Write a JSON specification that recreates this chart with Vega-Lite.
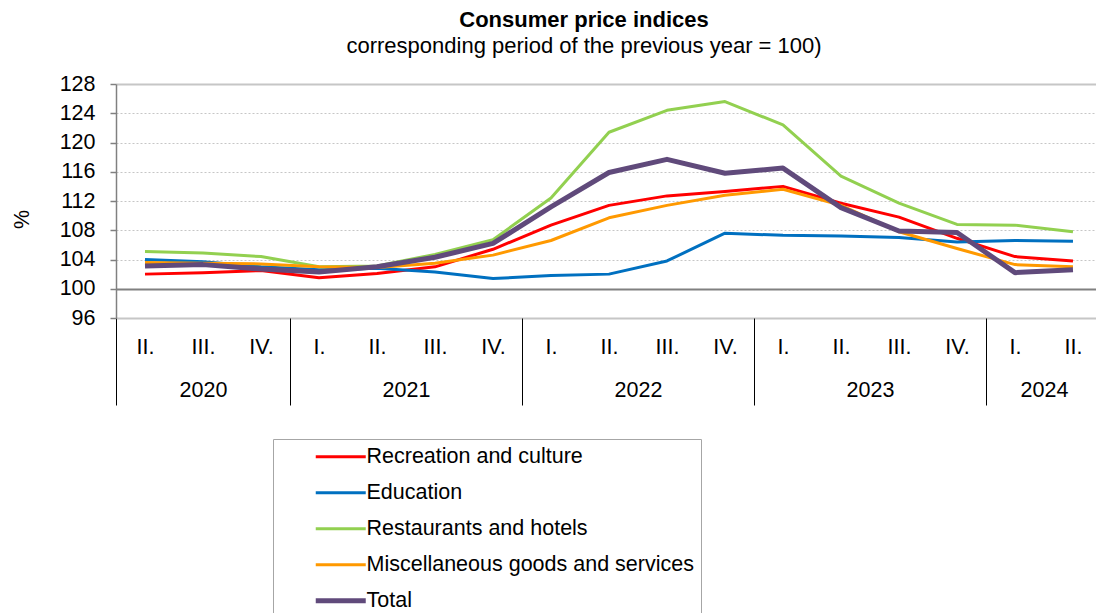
{
  "$schema": "https://vega.github.io/schema/vega-lite/v6.json",
  "width": 980,
  "height": 234,
  "autosize": {"type": "none"},
  "padding": {"left": 116, "top": 84, "right": 0, "bottom": 295},
  "background": "white",
  "config": {"font": "Liberation Sans", "view": {"stroke": null}},
  "title": {
    "text": "Consumer price indices",
    "subtitle": "corresponding period of the previous year = 100)",
    "anchor": "middle",
    "frame": "group",
    "dx": -22,
    "offset": 15,
    "font": "Liberation Sans",
    "subtitleFont": "Liberation Sans",
    "fontSize": 22,
    "fontWeight": "bold",
    "subtitleFontSize": 22,
    "subtitlePadding": 4,
    "color": "black",
    "subtitleColor": "black"
  },
  "data": {
    "values": [
      {"t": 0, "year": 2020, "quarter": "II.", "series": "Recreation and culture", "value": 102.0},
      {"t": 1, "year": 2020, "quarter": "III.", "series": "Recreation and culture", "value": 102.2},
      {"t": 2, "year": 2020, "quarter": "IV.", "series": "Recreation and culture", "value": 102.5},
      {"t": 3, "year": 2021, "quarter": "I.", "series": "Recreation and culture", "value": 101.5},
      {"t": 4, "year": 2021, "quarter": "II.", "series": "Recreation and culture", "value": 102.1},
      {"t": 5, "year": 2021, "quarter": "III.", "series": "Recreation and culture", "value": 103.0},
      {"t": 6, "year": 2021, "quarter": "IV.", "series": "Recreation and culture", "value": 105.4},
      {"t": 7, "year": 2022, "quarter": "I.", "series": "Recreation and culture", "value": 108.7},
      {"t": 8, "year": 2022, "quarter": "II.", "series": "Recreation and culture", "value": 111.4},
      {"t": 9, "year": 2022, "quarter": "III.", "series": "Recreation and culture", "value": 112.7},
      {"t": 10, "year": 2022, "quarter": "IV.", "series": "Recreation and culture", "value": 113.3},
      {"t": 11, "year": 2023, "quarter": "I.", "series": "Recreation and culture", "value": 114.0},
      {"t": 12, "year": 2023, "quarter": "II.", "series": "Recreation and culture", "value": 111.7},
      {"t": 13, "year": 2023, "quarter": "III.", "series": "Recreation and culture", "value": 109.8},
      {"t": 14, "year": 2023, "quarter": "IV.", "series": "Recreation and culture", "value": 106.9},
      {"t": 15, "year": 2024, "quarter": "I.", "series": "Recreation and culture", "value": 104.4},
      {"t": 16, "year": 2024, "quarter": "II.", "series": "Recreation and culture", "value": 103.8},

      {"t": 0, "year": 2020, "quarter": "II.", "series": "Education", "value": 104.0},
      {"t": 1, "year": 2020, "quarter": "III.", "series": "Education", "value": 103.7},
      {"t": 2, "year": 2020, "quarter": "IV.", "series": "Education", "value": 103.0},
      {"t": 3, "year": 2021, "quarter": "I.", "series": "Education", "value": 102.6},
      {"t": 4, "year": 2021, "quarter": "II.", "series": "Education", "value": 102.8},
      {"t": 5, "year": 2021, "quarter": "III.", "series": "Education", "value": 102.3},
      {"t": 6, "year": 2021, "quarter": "IV.", "series": "Education", "value": 101.4},
      {"t": 7, "year": 2022, "quarter": "I.", "series": "Education", "value": 101.8},
      {"t": 8, "year": 2022, "quarter": "II.", "series": "Education", "value": 102.0},
      {"t": 9, "year": 2022, "quarter": "III.", "series": "Education", "value": 103.8},
      {"t": 10, "year": 2022, "quarter": "IV.", "series": "Education", "value": 107.6},
      {"t": 11, "year": 2023, "quarter": "I.", "series": "Education", "value": 107.3},
      {"t": 12, "year": 2023, "quarter": "II.", "series": "Education", "value": 107.2},
      {"t": 13, "year": 2023, "quarter": "III.", "series": "Education", "value": 107.0},
      {"t": 14, "year": 2023, "quarter": "IV.", "series": "Education", "value": 106.4},
      {"t": 15, "year": 2024, "quarter": "I.", "series": "Education", "value": 106.6},
      {"t": 16, "year": 2024, "quarter": "II.", "series": "Education", "value": 106.5},

      {"t": 0, "year": 2020, "quarter": "II.", "series": "Restaurants and hotels", "value": 105.1},
      {"t": 1, "year": 2020, "quarter": "III.", "series": "Restaurants and hotels", "value": 104.9},
      {"t": 2, "year": 2020, "quarter": "IV.", "series": "Restaurants and hotels", "value": 104.4},
      {"t": 3, "year": 2021, "quarter": "I.", "series": "Restaurants and hotels", "value": 103.0},
      {"t": 4, "year": 2021, "quarter": "II.", "series": "Restaurants and hotels", "value": 103.1},
      {"t": 5, "year": 2021, "quarter": "III.", "series": "Restaurants and hotels", "value": 104.7},
      {"t": 6, "year": 2021, "quarter": "IV.", "series": "Restaurants and hotels", "value": 106.7},
      {"t": 7, "year": 2022, "quarter": "I.", "series": "Restaurants and hotels", "value": 112.4},
      {"t": 8, "year": 2022, "quarter": "II.", "series": "Restaurants and hotels", "value": 121.4},
      {"t": 9, "year": 2022, "quarter": "III.", "series": "Restaurants and hotels", "value": 124.4},
      {"t": 10, "year": 2022, "quarter": "IV.", "series": "Restaurants and hotels", "value": 125.6},
      {"t": 11, "year": 2023, "quarter": "I.", "series": "Restaurants and hotels", "value": 122.4},
      {"t": 12, "year": 2023, "quarter": "II.", "series": "Restaurants and hotels", "value": 115.4},
      {"t": 13, "year": 2023, "quarter": "III.", "series": "Restaurants and hotels", "value": 111.7},
      {"t": 14, "year": 2023, "quarter": "IV.", "series": "Restaurants and hotels", "value": 108.8},
      {"t": 15, "year": 2024, "quarter": "I.", "series": "Restaurants and hotels", "value": 108.7},
      {"t": 16, "year": 2024, "quarter": "II.", "series": "Restaurants and hotels", "value": 107.8},

      {"t": 0, "year": 2020, "quarter": "II.", "series": "Miscellaneous goods and services", "value": 103.6},
      {"t": 1, "year": 2020, "quarter": "III.", "series": "Miscellaneous goods and services", "value": 103.5},
      {"t": 2, "year": 2020, "quarter": "IV.", "series": "Miscellaneous goods and services", "value": 103.4},
      {"t": 3, "year": 2021, "quarter": "I.", "series": "Miscellaneous goods and services", "value": 103.0},
      {"t": 4, "year": 2021, "quarter": "II.", "series": "Miscellaneous goods and services", "value": 102.9},
      {"t": 5, "year": 2021, "quarter": "III.", "series": "Miscellaneous goods and services", "value": 103.5},
      {"t": 6, "year": 2021, "quarter": "IV.", "series": "Miscellaneous goods and services", "value": 104.6},
      {"t": 7, "year": 2022, "quarter": "I.", "series": "Miscellaneous goods and services", "value": 106.6},
      {"t": 8, "year": 2022, "quarter": "II.", "series": "Miscellaneous goods and services", "value": 109.7},
      {"t": 9, "year": 2022, "quarter": "III.", "series": "Miscellaneous goods and services", "value": 111.4},
      {"t": 10, "year": 2022, "quarter": "IV.", "series": "Miscellaneous goods and services", "value": 112.8},
      {"t": 11, "year": 2023, "quarter": "I.", "series": "Miscellaneous goods and services", "value": 113.6},
      {"t": 12, "year": 2023, "quarter": "II.", "series": "Miscellaneous goods and services", "value": 111.4},
      {"t": 13, "year": 2023, "quarter": "III.", "series": "Miscellaneous goods and services", "value": 107.8},
      {"t": 14, "year": 2023, "quarter": "IV.", "series": "Miscellaneous goods and services", "value": 105.5},
      {"t": 15, "year": 2024, "quarter": "I.", "series": "Miscellaneous goods and services", "value": 103.3},
      {"t": 16, "year": 2024, "quarter": "II.", "series": "Miscellaneous goods and services", "value": 103.0},

      {"t": 0, "year": 2020, "quarter": "II.", "series": "Total", "value": 103.1},
      {"t": 1, "year": 2020, "quarter": "III.", "series": "Total", "value": 103.3},
      {"t": 2, "year": 2020, "quarter": "IV.", "series": "Total", "value": 102.7},
      {"t": 3, "year": 2021, "quarter": "I.", "series": "Total", "value": 102.3},
      {"t": 4, "year": 2021, "quarter": "II.", "series": "Total", "value": 103.0},
      {"t": 5, "year": 2021, "quarter": "III.", "series": "Total", "value": 104.3},
      {"t": 6, "year": 2021, "quarter": "IV.", "series": "Total", "value": 106.2},
      {"t": 7, "year": 2022, "quarter": "I.", "series": "Total", "value": 111.2},
      {"t": 8, "year": 2022, "quarter": "II.", "series": "Total", "value": 115.9},
      {"t": 9, "year": 2022, "quarter": "III.", "series": "Total", "value": 117.7},
      {"t": 10, "year": 2022, "quarter": "IV.", "series": "Total", "value": 115.8},
      {"t": 11, "year": 2023, "quarter": "I.", "series": "Total", "value": 116.5},
      {"t": 12, "year": 2023, "quarter": "II.", "series": "Total", "value": 111.1},
      {"t": 13, "year": 2023, "quarter": "III.", "series": "Total", "value": 107.9},
      {"t": 14, "year": 2023, "quarter": "IV.", "series": "Total", "value": 107.7},
      {"t": 15, "year": 2024, "quarter": "I.", "series": "Total", "value": 102.2},
      {"t": 16, "year": 2024, "quarter": "II.", "series": "Total", "value": 102.6}
    ]
  },
  "encoding": {
    "y": {
      "field": "value",
      "type": "quantitative",
      "scale": {"domain": [96, 128], "nice": false, "zero": false},
      "axis": {
        "values": [96, 100, 104, 108, 112, 116, 120, 124, 128],
        "title": "%",
        "titleFont": "Liberation Sans",
        "titleFontSize": 21.5,
        "titleFontWeight": "normal",
        "titleColor": "black",
        "titlePadding": 26,
        "titleY": 135,
        "labelFont": "Liberation Sans",
        "labelFontSize": 21.5,
        "labelColor": "black",
        "labelPadding": 15,
        "tickSize": 6,
        "tickColor": "#808080",
        "tickWidth": 1.5,
        "domainColor": "#808080",
        "domainWidth": 1.5,
        "grid": true,
        "gridColor": {"condition": {"test": "datum.value === 100", "value": "#808080"}, "value": "#c6c6c6"},
        "gridDash": {"condition": {"test": "datum.value === 100 || datum.value === 96 || datum.value === 128", "value": []}, "value": [2, 2]},
        "gridWidth": {"condition": {"test": "datum.value === 100 || datum.value === 96 || datum.value === 128", "value": 2}, "value": 1},
        "labelOverlap": false
      }
    },
    "color": {
      "field": "series",
      "type": "nominal",
      "scale": {
        "domain": ["Recreation and culture", "Education", "Restaurants and hotels", "Miscellaneous goods and services", "Total"],
        "range": ["#ff0000", "#0070c0", "#92d050", "#ff9900", "#604a7b"]
      },
      "legend": {
        "orient": "none",
        "legendX": 157,
        "legendY": 355,
        "title": null,
        "direction": "vertical",
        "strokeColor": "#a6a6a6",
        "padding": 7,
        "symbolType": "M-2.5,0L2.5,0",
        "symbolSize": 400,
        "symbolStrokeWidth": 3,
        "symbolOffset": 50,
        "labelOffset": 15,
        "labelFont": "Liberation Sans",
        "labelFontSize": 21.5,
        "labelColor": "black",
        "labelLimit": 500,
        "rowPadding": 13,
        "encode": {"symbols": {"update": {"strokeWidth": {"signal": "datum.value === 'Total' ? 5 : 3"}}}}
      }
    }
  },
  "layer": [
    {
      "transform": [{"filter": {"field": "series", "oneOf": ["Recreation and culture", "Education", "Restaurants and hotels"]}}],
      "mark": {"type": "line", "strokeWidth": 3, "strokeJoin": "round"},
      "encoding": {
        "x": {
          "field": "t",
          "type": "quantitative",
          "scale": {"domain": [-0.5, 16.397], "nice": false, "zero": false},
          "axis": {
            "orient": "bottom",
            "title": null,
            "values": [0, 1, 2, 3, 4, 5, 6, 7, 8, 9, 10, 11, 12, 13, 14, 15, 16],
            "labelExpr": "['II.','III.','IV.','I.','II.','III.','IV.','I.','II.','III.','IV.','I.','II.','III.','IV.','I.','II.'][datum.value]",
            "ticks": false,
            "domain": false,
            "grid": false,
            "labelPadding": 18,
            "labelFont": "Liberation Sans",
            "labelFontSize": 21.5,
            "labelColor": "black",
            "labelOverlap": false,
            "labelFlush": false,
            "labelBound": false
          }
        }
      }
    },
    {
      "transform": [{"filter": {"field": "series", "equal": "Miscellaneous goods and services"}}],
      "mark": {"type": "line", "strokeWidth": 3, "strokeJoin": "round"},
      "encoding": {
        "x": {
          "field": "t",
          "type": "quantitative",
          "scale": {"domain": [-0.5, 16.397], "nice": false, "zero": false},
          "axis": {
            "orient": "bottom",
            "title": null,
            "values": [-0.5, 2.5, 6.5, 10.5, 14.5],
            "labels": false,
            "ticks": true,
            "tickSize": 87,
            "tickColor": "black",
            "tickWidth": 1,
            "domain": false,
            "grid": false
          }
        }
      }
    },
    {
      "transform": [{"filter": {"field": "series", "equal": "Total"}}],
      "mark": {"type": "line", "strokeWidth": 5, "strokeJoin": "round"},
      "encoding": {
        "x": {
          "field": "t",
          "type": "quantitative",
          "scale": {"domain": [-0.5, 16.397], "nice": false, "zero": false},
          "axis": {
            "orient": "bottom",
            "title": null,
            "values": [1, 4.5, 8.5, 12.5, 15.5],
            "labelExpr": "datum.value < 2 ? '2020' : datum.value < 6 ? '2021' : datum.value < 10 ? '2022' : datum.value < 14 ? '2023' : '2024'",
            "ticks": false,
            "domain": false,
            "grid": false,
            "labelPadding": 61,
            "labelFont": "Liberation Sans",
            "labelFontSize": 21.5,
            "labelColor": "black",
            "labelOverlap": false,
            "labelFlush": false,
            "labelBound": false
          }
        }
      }
    }
  ],
  "resolve": {"axis": {"x": "independent"}}
}
